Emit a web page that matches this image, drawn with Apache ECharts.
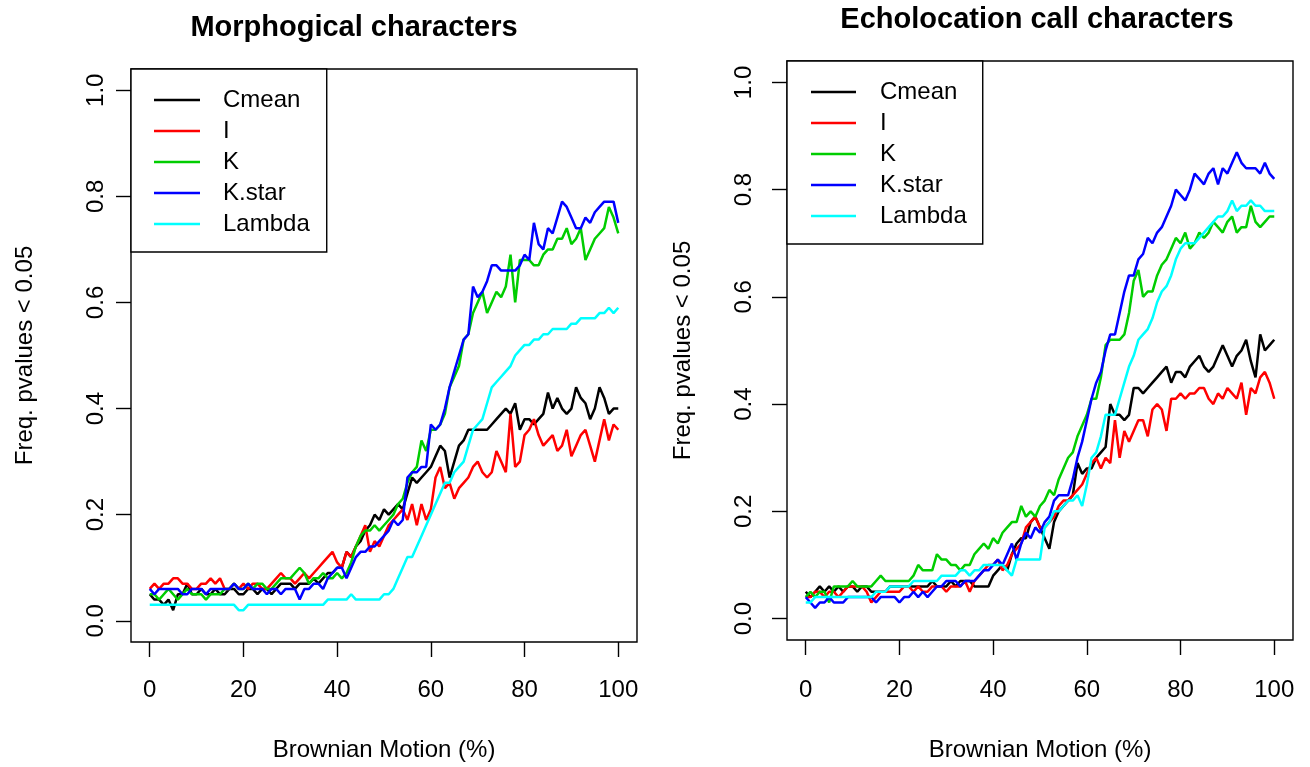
<!DOCTYPE html>
<html>
<head>
<meta charset="utf-8">
<script src="https://cdn.jsdelivr.net/npm/echarts@6/dist/echarts.min.js"></script>
<style>
html,body{margin:0;padding:0;background:#fff;}
#c{width:1310px;height:767px;}
</style>
</head>
<body>
<div id="c"></div>
<script>
// ---------- data ----------
const seriesNames = ['Cmean', 'I', 'K', 'K.star', 'Lambda'];
const seriesColors = ['#000000', '#FF0000', '#00CD00', '#0000FF', '#00FFFF'];
const xTicks = [0, 20, 40, 60, 80, 100];
const yTicks = [0, 0.2, 0.4, 0.6, 0.8, 1.0];
const titles = ['Morphogical characters', 'Echolocation call characters'];
const xTitle = 'Brownian Motion (%)';
const yTitle = 'Freq. pvalues < 0.05';

// Left panel: Morphological characters (x = 0..100 step 1)
const morphCmean = [
  0.05,0.04,0.04,0.03,0.04,0.02,0.05,0.05,0.07,0.05,
  0.05,0.06,0.05,0.05,0.06,0.05,0.05,0.06,0.06,0.05,
  0.05,0.06,0.06,0.05,0.06,0.06,0.05,0.06,0.07,0.07,
  0.07,0.06,0.07,0.07,0.07,0.08,0.07,0.08,0.09,0.09,
  0.10,0.10,0.13,0.12,0.14,0.15,0.17,0.18,0.20,0.19,
  0.21,0.20,0.21,0.22,0.21,0.24,0.27,0.26,0.27,0.28,
  0.29,0.31,0.33,0.32,0.27,0.30,0.33,0.34,0.36,0.36,
  0.36,0.36,0.36,0.37,0.38,0.39,0.40,0.39,0.41,0.36,
  0.38,0.38,0.37,0.38,0.39,0.43,0.40,0.42,0.40,0.39,
  0.40,0.44,0.42,0.41,0.38,0.40,0.44,0.42,0.39,0.40,
  0.40];
const morphI = [
  0.06,0.07,0.06,0.07,0.07,0.08,0.08,0.07,0.07,0.06,
  0.06,0.07,0.07,0.08,0.07,0.08,0.06,0.06,0.07,0.06,
  0.07,0.06,0.07,0.07,0.06,0.06,0.07,0.08,0.09,0.08,
  0.08,0.07,0.08,0.09,0.08,0.09,0.10,0.11,0.12,0.13,
  0.11,0.10,0.13,0.12,0.14,0.16,0.18,0.13,0.15,0.14,
  0.16,0.18,0.19,0.20,0.21,0.19,0.22,0.18,0.22,0.19,
  0.21,0.27,0.29,0.25,0.26,0.23,0.25,0.26,0.27,0.29,
  0.30,0.28,0.27,0.28,0.32,0.30,0.28,0.39,0.29,0.30,
  0.35,0.36,0.38,0.35,0.33,0.34,0.35,0.32,0.33,0.36,
  0.31,0.33,0.35,0.36,0.33,0.30,0.34,0.38,0.34,0.37,
  0.36];
const morphK = [
  0.05,0.05,0.04,0.05,0.06,0.05,0.04,0.05,0.06,0.05,
  0.05,0.05,0.04,0.05,0.05,0.05,0.06,0.06,0.07,0.06,
  0.06,0.07,0.06,0.07,0.07,0.06,0.06,0.07,0.08,0.08,
  0.08,0.09,0.10,0.09,0.07,0.08,0.08,0.09,0.08,0.08,
  0.09,0.08,0.09,0.11,0.14,0.16,0.17,0.17,0.18,0.17,
  0.18,0.19,0.20,0.22,0.23,0.26,0.28,0.29,0.34,0.32,
  0.36,0.36,0.37,0.39,0.44,0.46,0.48,0.53,0.54,0.58,
  0.60,0.62,0.58,0.60,0.62,0.61,0.63,0.69,0.60,0.68,
  0.68,0.68,0.67,0.67,0.69,0.70,0.70,0.72,0.72,0.74,
  0.71,0.72,0.74,0.68,0.70,0.72,0.73,0.74,0.78,0.76,
  0.73];
const morphKstar = [
  0.06,0.05,0.06,0.06,0.06,0.06,0.06,0.05,0.05,0.06,
  0.06,0.06,0.05,0.06,0.06,0.06,0.06,0.06,0.07,0.06,
  0.06,0.07,0.06,0.06,0.06,0.05,0.06,0.06,0.05,0.06,
  0.06,0.06,0.04,0.06,0.06,0.07,0.07,0.06,0.08,0.09,
  0.10,0.10,0.08,0.10,0.12,0.13,0.13,0.14,0.14,0.15,
  0.16,0.17,0.19,0.18,0.19,0.27,0.28,0.28,0.29,0.29,
  0.37,0.36,0.37,0.40,0.44,0.47,0.50,0.53,0.54,0.63,
  0.61,0.62,0.64,0.67,0.67,0.66,0.66,0.66,0.66,0.67,
  0.69,0.68,0.75,0.71,0.70,0.74,0.73,0.76,0.79,0.78,
  0.76,0.74,0.74,0.76,0.75,0.77,0.78,0.79,0.79,0.79,
  0.75];
const morphLambda = [
  0.03,0.03,0.03,0.03,0.03,0.03,0.03,0.03,0.03,0.03,
  0.03,0.03,0.03,0.03,0.03,0.03,0.03,0.03,0.03,0.02,
  0.02,0.03,0.03,0.03,0.03,0.03,0.03,0.03,0.03,0.03,
  0.03,0.03,0.03,0.03,0.03,0.03,0.03,0.03,0.04,0.04,
  0.04,0.04,0.04,0.05,0.04,0.04,0.04,0.04,0.04,0.04,
  0.05,0.05,0.06,0.08,0.10,0.12,0.12,0.14,0.16,0.18,
  0.20,0.22,0.24,0.26,0.26,0.28,0.29,0.30,0.33,0.36,
  0.37,0.38,0.41,0.44,0.45,0.46,0.47,0.48,0.50,0.51,
  0.52,0.52,0.53,0.53,0.54,0.54,0.55,0.55,0.55,0.55,
  0.56,0.56,0.57,0.57,0.57,0.57,0.58,0.58,0.59,0.58,
  0.59];

// Right panel: Echolocation call characters (x = 0..100 step 1)
const echoCmean = [
  0.05,0.04,0.05,0.06,0.05,0.06,0.05,0.06,0.05,0.06,
  0.06,0.05,0.06,0.06,0.05,0.05,0.05,0.05,0.06,0.06,
  0.06,0.06,0.06,0.06,0.06,0.06,0.06,0.07,0.06,0.06,
  0.06,0.07,0.06,0.07,0.07,0.07,0.06,0.06,0.06,0.06,
  0.08,0.09,0.10,0.09,0.12,0.14,0.15,0.15,0.18,0.19,
  0.17,0.15,0.13,0.18,0.20,0.21,0.22,0.23,0.29,0.27,
  0.28,0.28,0.30,0.31,0.32,0.40,0.38,0.38,0.37,0.38,
  0.43,0.43,0.42,0.43,0.44,0.45,0.46,0.47,0.44,0.46,
  0.46,0.45,0.47,0.48,0.49,0.47,0.46,0.47,0.49,0.51,
  0.49,0.47,0.49,0.50,0.52,0.48,0.45,0.53,0.50,0.51,
  0.52];
const echoI = [
  0.04,0.04,0.05,0.05,0.04,0.05,0.05,0.04,0.05,0.06,
  0.06,0.06,0.06,0.05,0.03,0.04,0.05,0.05,0.05,0.05,
  0.05,0.06,0.06,0.05,0.06,0.05,0.05,0.06,0.06,0.06,
  0.05,0.06,0.06,0.06,0.07,0.05,0.07,0.08,0.09,0.10,
  0.10,0.11,0.09,0.10,0.12,0.13,0.14,0.17,0.18,0.19,
  0.17,0.17,0.18,0.19,0.21,0.22,0.22,0.23,0.24,0.25,
  0.27,0.29,0.30,0.28,0.30,0.29,0.37,0.30,0.35,0.33,
  0.35,0.37,0.37,0.34,0.39,0.40,0.39,0.35,0.41,0.41,
  0.42,0.41,0.42,0.42,0.43,0.43,0.41,0.40,0.42,0.41,
  0.43,0.42,0.41,0.44,0.38,0.43,0.42,0.45,0.46,0.44,
  0.41];
const echoK = [
  0.04,0.05,0.04,0.05,0.05,0.03,0.06,0.06,0.06,0.06,
  0.07,0.06,0.06,0.06,0.06,0.07,0.08,0.07,0.07,0.07,
  0.07,0.07,0.07,0.08,0.10,0.09,0.09,0.09,0.12,0.11,
  0.11,0.10,0.10,0.09,0.10,0.10,0.12,0.13,0.14,0.13,
  0.15,0.14,0.16,0.17,0.18,0.18,0.21,0.19,0.20,0.19,
  0.21,0.22,0.24,0.23,0.26,0.28,0.30,0.31,0.34,0.36,
  0.38,0.41,0.41,0.45,0.51,0.52,0.52,0.52,0.53,0.57,
  0.63,0.65,0.60,0.61,0.61,0.64,0.66,0.67,0.69,0.71,
  0.70,0.72,0.69,0.70,0.72,0.71,0.72,0.74,0.73,0.72,
  0.74,0.75,0.72,0.73,0.73,0.77,0.74,0.73,0.74,0.75,
  0.75];
const echoKstar = [
  0.04,0.03,0.02,0.03,0.03,0.04,0.03,0.03,0.03,0.04,
  0.04,0.04,0.04,0.04,0.04,0.03,0.04,0.04,0.04,0.04,
  0.03,0.04,0.04,0.05,0.04,0.05,0.04,0.05,0.06,0.06,
  0.07,0.07,0.07,0.06,0.07,0.07,0.07,0.08,0.09,0.09,
  0.10,0.11,0.10,0.12,0.14,0.11,0.14,0.16,0.15,0.17,
  0.16,0.18,0.19,0.22,0.23,0.23,0.23,0.26,0.30,0.33,
  0.37,0.41,0.44,0.46,0.50,0.53,0.53,0.57,0.61,0.64,
  0.64,0.67,0.68,0.71,0.70,0.72,0.73,0.75,0.77,0.80,
  0.79,0.78,0.80,0.83,0.82,0.81,0.83,0.84,0.81,0.84,
  0.83,0.85,0.87,0.85,0.84,0.84,0.84,0.83,0.85,0.83,
  0.82];
const echoLambda = [
  0.03,0.03,0.04,0.04,0.04,0.04,0.04,0.04,0.04,0.04,
  0.04,0.04,0.04,0.04,0.04,0.05,0.05,0.05,0.06,0.06,
  0.06,0.06,0.06,0.07,0.07,0.07,0.07,0.07,0.07,0.08,
  0.08,0.08,0.08,0.09,0.09,0.08,0.09,0.09,0.10,0.10,
  0.10,0.10,0.10,0.09,0.08,0.11,0.11,0.11,0.11,0.11,
  0.11,0.17,0.18,0.20,0.20,0.21,0.22,0.22,0.23,0.21,
  0.25,0.30,0.31,0.34,0.38,0.38,0.38,0.41,0.44,0.47,
  0.49,0.52,0.53,0.54,0.56,0.59,0.61,0.62,0.64,0.67,
  0.69,0.70,0.70,0.70,0.71,0.72,0.73,0.74,0.75,0.75,
  0.76,0.78,0.76,0.77,0.77,0.78,0.77,0.77,0.76,0.76,
  0.76];

const morphData = [morphCmean, morphI, morphK, morphKstar, morphLambda];
const echoData = [echoCmean, echoI, echoK, echoKstar, echoLambda];

// ---------- chart ----------
const FONT = '"Liberation Sans", Arial, sans-serif';
const chart = echarts.init(document.getElementById('c'), null, {renderer: 'canvas'});

function pairs(vals) { return vals.map((v, i) => [i, v]); }

const grids = [
  {left: 131, top: 69, width: 506, height: 575},
  {left: 787, top: 61, width: 506, height: 579}
];
const yLabelMargin = [23, 31];
const xLabelMargin = [36, 38];
const xNameGap = [96, 98];
const yNameGap = [94, 92];

const option = {
  animation: false,
  backgroundColor: '#ffffff',
  grid: grids.map(g => Object.assign({show: true, borderColor: '#000', borderWidth: 1.4, backgroundColor: 'transparent', containLabel: false}, g)),
  xAxis: [0, 1].map(i => ({
    type: 'value', gridIndex: i, min: -4, max: 104,
    name: xTitle, nameLocation: 'middle', nameGap: xNameGap[i],
    nameTextStyle: {fontFamily: FONT, fontSize: 24, color: '#000'},
    axisLine: {show: false, onZero: false},
    axisTick: {show: true, inside: false, length: 15, customValues: xTicks, lineStyle: {color: '#000', width: 1.4}},
    axisLabel: {show: true, margin: xLabelMargin[i], customValues: xTicks, fontFamily: FONT, fontSize: 24, color: '#000'},
    splitLine: {show: false}
  })),
  yAxis: [0, 1].map(i => ({
    type: 'value', gridIndex: i, min: -0.04, max: 1.04,
    name: yTitle, nameLocation: 'middle', nameGap: yNameGap[i],
    nameTextStyle: {fontFamily: FONT, fontSize: 24, color: '#000'},
    axisLine: {show: false, onZero: false},
    axisTick: {show: true, inside: false, length: 15, customValues: yTicks, lineStyle: {color: '#000', width: 1.4}},
    axisLabel: {show: true, rotate: 90, margin: yLabelMargin[i], customValues: yTicks,
      formatter: v => v.toFixed(1), fontFamily: FONT, fontSize: 24, color: '#000'},
    splitLine: {show: false}
  })),
  legend: [
    {left: 131, top: 69, orient: 'vertical', data: seriesNames, icon: 'rect', itemWidth: 46, itemHeight: 2.5, itemGap: 7,
     padding: [19, 17, 16, 23], borderColor: '#000', borderWidth: 1.4, backgroundColor: '#fff',
     textStyle: {fontFamily: FONT, fontSize: 24, color: '#000', lineHeight: 24, padding: [0, 0, 0, 18]},
     selectedMode: false},
    {left: 787, top: 61, orient: 'vertical', data: seriesNames, icon: 'rect', itemWidth: 45, itemHeight: 2.5, itemGap: 7,
     padding: [19, 16, 16, 24], borderColor: '#000', borderWidth: 1.4, backgroundColor: '#fff',
     textStyle: {fontFamily: FONT, fontSize: 24, color: '#000', lineHeight: 24, padding: [0, 0, 0, 19]},
     selectedMode: false}
  ],
  graphic: [
    {type: 'text', x: 354, y: 28, style: {text: titles[0], font: 'bold 29px ' + FONT, fill: '#000', textAlign: 'center', textVerticalAlign: 'middle'}},
    {type: 'text', x: 1037, y: 20, style: {text: titles[1], font: 'bold 29px ' + FONT, fill: '#000', textAlign: 'center', textVerticalAlign: 'middle'}}
  ],
  series: []
};

[morphData, echoData].forEach((panel, p) => {
  panel.forEach((vals, k) => {
    option.series.push({
      type: 'line', name: seriesNames[k], xAxisIndex: p, yAxisIndex: p,
      data: pairs(vals), showSymbol: false, symbol: 'none',
      lineStyle: {color: seriesColors[k], width: 2.5}, itemStyle: {color: seriesColors[k]},
      z: 2
    });
  });
});

chart.setOption(option);
</script>
</body>
</html>
